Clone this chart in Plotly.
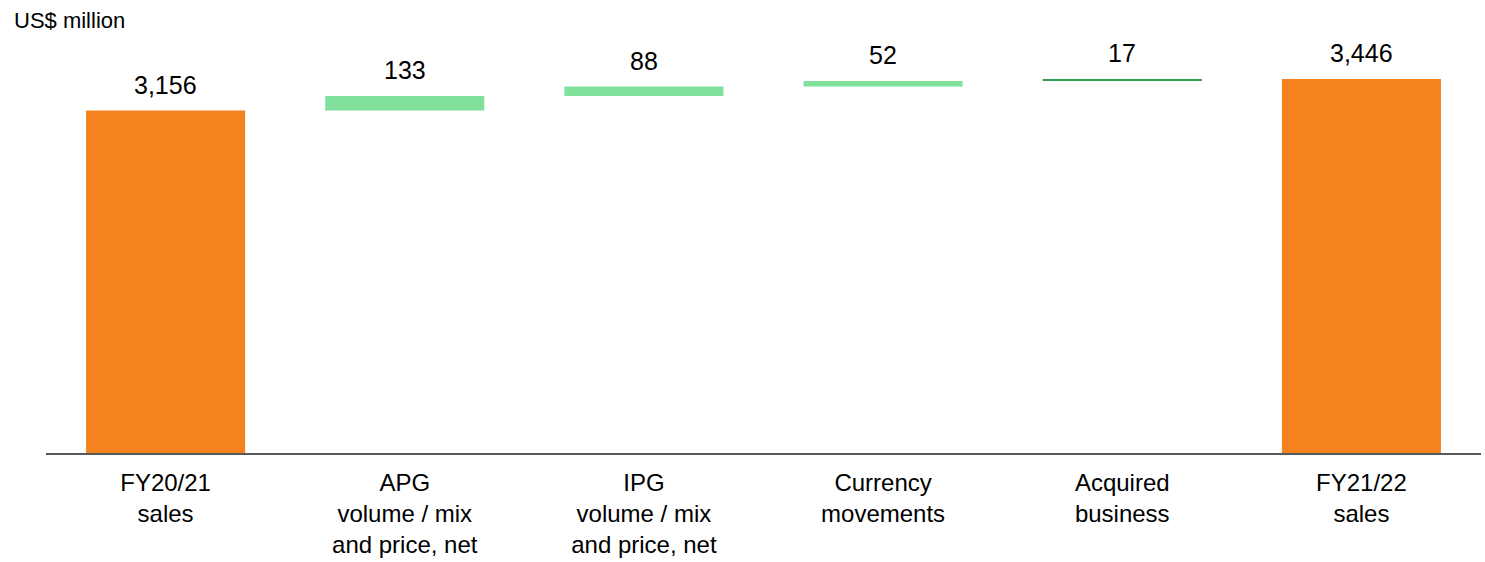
import plotly.graph_objects as go

categories = ["FY20/21<br>sales", "APG<br>volume / mix<br>and price, net",
              "IPG<br>volume / mix<br>and price, net", "Currency<br>movements",
              "Acquired<br>business", "FY21/22<br>sales"]
values = [3156, 133, 88, 52, 17, 3446]
kinds = ["total", "delta", "delta", "delta", "delta", "total"]
labels = ["3,156", "133", "88", "52", "17", "3,446"]
colors = ["#F5821F", "#82E09D", "#82E09D", "#82E09D", "#2E9E4F", "#F5821F"]

bases, heights, tops = [], [], []
running = 0
for v, k in zip(values, kinds):
    if k == "total":
        bases.append(0); heights.append(v); running = v
    else:
        bases.append(running); heights.append(v); running += v
    tops.append(bases[-1] + heights[-1])

FONT = "Arial, Liberation Sans, sans-serif"

fig = go.Figure(go.Bar(x=categories, y=heights, base=bases,
                       marker=dict(color=colors, line=dict(width=0)),
                       hoverinfo="skip"))

for c, t, lab in zip(categories, tops, labels):
    fig.add_annotation(x=c, y=t, text=lab, showarrow=False, yanchor="bottom",
                       yshift=10, font=dict(family=FONT, size=25, color="#000000"))

fig.add_annotation(xref="paper", yref="paper", x=-0.0236, y=1.0, xanchor="left",
                   yanchor="middle", text="US$ million", showarrow=False,
                   font=dict(family=FONT, size=22, color="#000000"))

fig.update_layout(
    width=1485, height=562,
    margin=dict(l=46, r=4, t=20, b=109, autoexpand=False),
    plot_bgcolor="white", paper_bgcolor="white",
    bargap=0.335, showlegend=False,
    font=dict(family=FONT, size=24, color="#000000"),
)
fig.update_xaxes(showline=True, linecolor="#595959", linewidth=1.5, automargin=False,
                 ticks="", showgrid=False, tickfont=dict(family=FONT, size=24, color="#000000"),
                 ticklabelstandoff=7)
fig.update_yaxes(range=[0, 3990], visible=False, showgrid=False, zeroline=False,
                 automargin=False)

fig.write_html("out.html")
